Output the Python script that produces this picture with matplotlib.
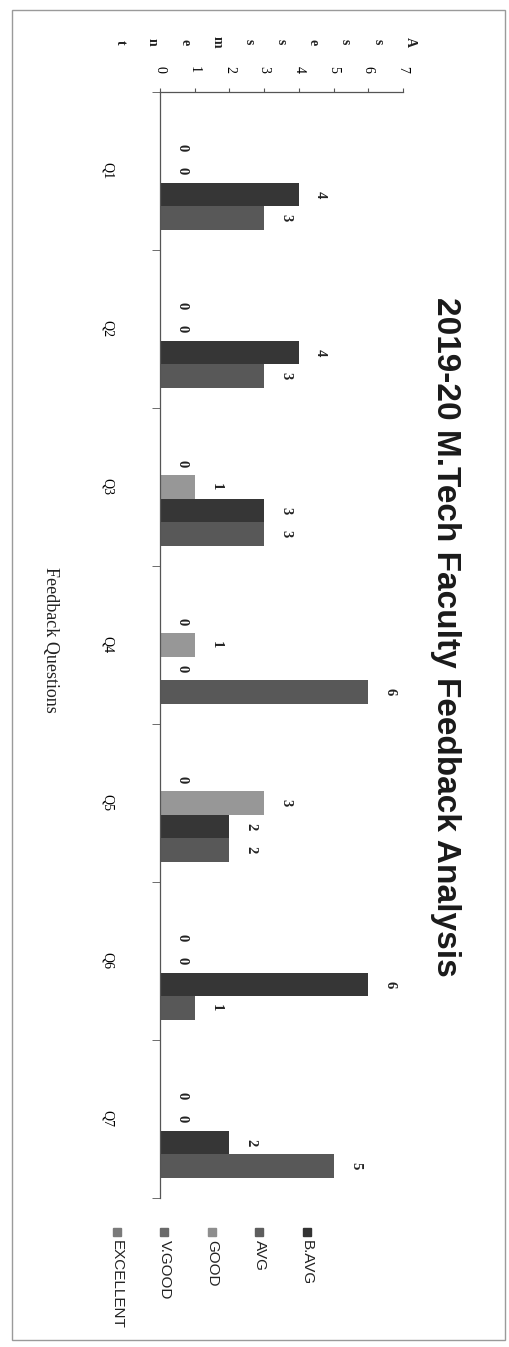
import numpy as np
import matplotlib
matplotlib.use("Agg")
from matplotlib import pyplot as plt
from matplotlib.patches import Rectangle


# -- Data --
questions = ['Q1', 'Q2', 'Q3', 'Q4', 'Q5', 'Q6', 'Q7']
series_names = ['B.AVG', 'AVG', 'GOOD', 'V.GOOD', 'EXCELLENT']
b_avg = [np.nan] * 7  # blank series, no bars and no labels
avg = [0, 0, 0, 0, 0, 0, 0]
good = [0, 0, 1, 1, 3, 0, 0]
v_good = [4, 4, 3, 0, 2, 6, 2]
excellent = [3, 3, 3, 6, 2, 1, 5]
value_ticks = [0, 1, 2, 3, 4, 5, 6, 7]

title = '2019-20 M.Tech Faculty Feedback Analysis'
x_title = 'Feedback Questions'
y_title = 'Assessment'

# greyscale scan colours
colors = ['#2e2e2e', '#575757', '#979797', '#363636', '#585858']
legend_colors = ['#333333', '#5e5e5e', '#8e8e8e', '#6a6a6a', '#7a7a7a']

SERIF = ['Liberation Serif', 'DejaVu Serif']
NARROW = ['Liberation Sans Narrow', 'Liberation Sans', 'DejaVu Sans']

W, H = 510, 1347  # px


def fx(px):
    return px / W


def fy(py):  # page y (from top) -> figure fraction
    return 1 - py / H


fig = plt.figure(figsize=(W / 100, H / 100), dpi=100)

# chart is scanned rotated 90 deg clockwise: categories run down the page
ax = fig.add_axes([fx(160), fy(1198), fx(403) - fx(160), fy(92) - fy(1198)])

all_series = [b_avg, avg, good, v_good, excellent]
y = np.arange(len(questions))
bw = 0.149
for i, vals in enumerate(all_series):
    bars = ax.barh(y + (i - 2) * bw, vals, height=bw, color=colors[i])
    labels = ['' if np.isnan(v) else '%d' % v for v in np.asarray(vals, float)]
    ax.bar_label(bars, labels=labels, padding=11, rotation=270,
                 fontsize=10.5, family=SERIF, fontweight='bold', color='#222222')

ax.set_xlim(0, 7)
ax.set_ylim(len(questions) - 0.5, -0.5)

ax.spines['right'].set_visible(False)
ax.spines['bottom'].set_visible(False)
for s in ['left', 'top']:
    ax.spines[s].set_color('#555555')
    ax.spines[s].set_linewidth(0.9)

ax.xaxis.tick_top()
ax.set_xticks(value_ticks)
ax.set_xticklabels([str(v) for v in value_ticks], rotation=270,
                   family=SERIF, fontsize=10)
ax.tick_params(axis='x', length=3, pad=11, color='#555555')

ax.set_yticks(y)
ax.set_yticklabels(questions, rotation=270, va='center', family=SERIF, fontsize=10)
ax.set_yticks(np.arange(-0.5, len(questions)), minor=True)
ax.tick_params(axis='y', which='major', length=0, pad=33)
ax.tick_params(axis='y', which='minor', length=6, color='#555555')

# stacked-letter axis title
for k, ch in enumerate(y_title):
    fig.text(fx(410 - k * 32.2), fy(42), ch, rotation=270, ha='center', va='center',
             family=SERIF, fontsize=10, fontweight='bold', color='#222222')

fig.text(fx(50), fy(640), x_title, rotation=270, ha='center', va='center',
         family=SERIF, fontsize=13, color='#222222')

fig.text(fx(445), fy(637), title, rotation=270, ha='center', va='center',
         family=NARROW, fontsize=24, fontweight='bold', color='#1a1a1a')

# legend, drawn by hand so the entries read down the page
for i, name in enumerate(series_names):
    lx = 307 - i * 47.5
    fig.add_artist(Rectangle((fx(lx - 4), fy(1236)), fx(8), fy(1228) - fy(1236),
                             color=legend_colors[i], transform=fig.transFigure))
    fig.text(fx(lx), fy(1240), name, rotation=270, ha='center', va='top',
             family=NARROW, fontsize=11, color='#222222')

# frame of the scanned chart area
fig.add_artist(Rectangle((fx(12), fy(1340)), fx(505) - fx(12), fy(10) - fy(1340),
                         fill=False, edgecolor='#9a9a9a', linewidth=1,
                         transform=fig.transFigure))

fig.savefig('out.png', dpi=100)
